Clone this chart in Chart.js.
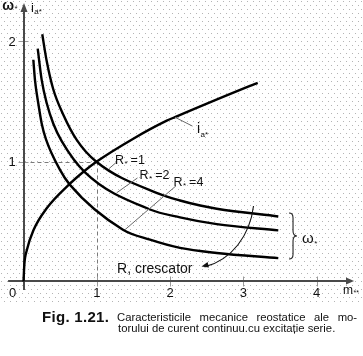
<!DOCTYPE html>
<html><head><meta charset="utf-8">
<script src="https://cdn.jsdelivr.net/npm/chart.js@4"></script>
<style>
html,body{margin:0;padding:0;background:#fff;}
#wrap{position:relative;width:363px;height:356px;overflow:hidden;}
canvas{position:absolute;left:0;top:0;}
.cap{position:absolute;font-family:"Liberation Sans",Arial,sans-serif;color:#111;white-space:nowrap;line-height:11.6px;}
</style></head><body>
<div id="wrap">
<canvas id="c" width="363" height="356"></canvas>
<div class="cap" style="left:42px;top:310.5px;font-size:15px;font-weight:bold;letter-spacing:0.3px;">Fig. 1.21.</div>
<div class="cap" style="left:117px;top:311.8px;font-size:11.3px;word-spacing:5.4px;">Caracteristicile mecanice reostatice ale mo-</div>
<div class="cap" style="left:118px;top:323.4px;font-size:11.3px;">torului de curent continuu.cu excitație serie.</div>
</div>
<script>
// tick labels
const ticksX = ['0','1','2','3','4'];
const ticksY = ['1','2'];
// armature current i_a* vs torque m*
const mIa = [0, 0.012, 0.044, 0.134, 0.317, 0.634, 0.839, 1.0, 1.498, 1.954, 2.067, 3.09, 3.195];
const iA  = [0, 0.145, 0.258, 0.425, 0.61, 0.815, 0.925, 1.0, 1.19, 1.34, 1.37, 1.63, 1.655];
// speed ω* for R* = 1
const mR1 = [0.256, 0.317, 0.407, 0.543, 0.726, 0.99, 1.862, 2.135, 2.41, 2.636, 3.476];
const wR1 = [2.06, 1.835, 1.60, 1.39, 1.18, 1.0, 0.728, 0.675, 0.633, 0.606, 0.542];
// speed ω* for R* = 2
const mR2 = [0.194, 0.248, 0.317, 0.407, 0.521, 0.839, 1.726, 2.135, 2.636, 3.476];
const wR2 = [1.94, 1.68, 1.485, 1.315, 1.17, 0.91, 0.60, 0.535, 0.478, 0.426];
// speed ω* for R* = 4
const mR4 = [0.134, 0.157, 0.202, 0.248, 0.307, 0.498, 0.634, 1.357, 1.726, 2.135, 2.636, 3.476];
const wR4 = [1.848, 1.676, 1.483, 1.317, 1.184, 0.93, 0.805, 0.432, 0.349, 0.28, 0.238, 0.195];

const pts = (xs, ys) => xs.map((x, i) => ({x, y: ys[i]}));
const FONT = '"Liberation Sans", Arial, sans-serif';

function ds(data){
  return {data, showLine:true, borderColor:'#000', borderWidth:2.4, pointRadius:0,
          cubicInterpolationMode:'monotone', fill:false, clip:false};
}

const deco = {
  id:'deco',
  beforeDraw(chart){
    const ctx = chart.ctx;
    ctx.save();
    ctx.fillStyle = '#fff';
    ctx.fillRect(0,0,chart.width,chart.height);
    ctx.fillStyle = '#b4b4b4';
    let r = 0;
    for (let y = 1; y < 302; y += 4, r++) {
      for (let x = (r % 2 ? 4 : 1); x < chart.width; x += 6) ctx.fillRect(x, y, 1, 1);
    }
    ctx.restore();
  },
  beforeDatasetsDraw(chart){
    const ctx = chart.ctx, sx = chart.scales.x, sy = chart.scales.y;
    const X = v => sx.getPixelForValue(v), Y = v => sy.getPixelForValue(v);
    ctx.save();
    // dashed guides through (1,1)
    ctx.strokeStyle = '#7a7a7a'; ctx.lineWidth = 1; ctx.setLineDash([4,3]);
    ctx.beginPath();
    ctx.moveTo(X(0), Math.round(Y(1))+0.5); ctx.lineTo(X(1), Math.round(Y(1))+0.5);
    ctx.moveTo(Math.round(X(1))+0.5, Y(1)); ctx.lineTo(Math.round(X(1))+0.5, Y(0));
    ctx.stroke();
    ctx.setLineDash([]);
    // ticks
    ctx.strokeStyle = '#9a9a9a';
    ctx.beginPath();
    for (let k = 1; k < ticksX.length; k++) {
      const x = Math.round(X(+ticksX[k]))+0.5;
      ctx.moveTo(x, Y(0)-5); ctx.lineTo(x, Y(0)+5);
    }
    ticksY.forEach(t => {
      const y = Math.round(Y(+t))+0.5;
      ctx.moveTo(X(0)-5, y); ctx.lineTo(X(0)+5, y);
    });
    ctx.stroke();
    // axes
    const ax = Math.round(X(0)), ay = Math.floor(Y(0));
    ctx.strokeStyle = '#4a4a4a'; ctx.fillStyle = '#4a4a4a'; ctx.lineWidth = 2;
    ctx.beginPath();
    ctx.moveTo(ax, Y(-0.07)); ctx.lineTo(ax, Y(2.26));
    ctx.moveTo(X(-0.21), ay); ctx.lineTo(X(4.44), ay);
    ctx.stroke();
    ctx.beginPath();
    ctx.moveTo(ax, Y(2.32)); ctx.lineTo(ax-3.5, Y(2.245)); ctx.lineTo(ax+3.5, Y(2.245)); ctx.closePath();
    ctx.fill();
    ctx.beginPath();
    ctx.moveTo(X(4.51), ay); ctx.lineTo(X(4.4), ay-3.5); ctx.lineTo(X(4.4), ay+3.5); ctx.closePath();
    ctx.fill();
    // tick labels
    ctx.fillStyle = '#111'; ctx.font = '13px ' + FONT;
    ctx.textAlign = 'center'; ctx.textBaseline = 'alphabetic';
    ticksX.forEach(t => {
      const v = +t;
      ctx.fillText(t, v === 0 ? X(-0.147) : X(v), Y(-0.129));
    });
    ctx.textBaseline = 'middle';
    ticksY.forEach(t => ctx.fillText(t, X(-0.157), Y(+t)+0.5));
    ctx.restore();
  },
  afterDatasetsDraw(chart){
    const ctx = chart.ctx, sx = chart.scales.x, sy = chart.scales.y;
    const X = v => sx.getPixelForValue(v), Y = v => sy.getPixelForValue(v);
    ctx.save();
    // leader lines
    ctx.strokeStyle = '#6a6a6a'; ctx.lineWidth = 1;
    const leaders = [
      [2.066,1.369, 2.305,1.295],
      [1.166,0.940, 1.276,0.998],
      [1.271,0.739, 1.555,0.863],
      [1.385,0.432, 2.08,0.797]
    ];
    ctx.beginPath();
    leaders.forEach(l => { ctx.moveTo(X(l[0]),Y(l[1])); ctx.lineTo(X(l[2]),Y(l[3])); });
    ctx.stroke();
    // text helpers
    ctx.fillStyle = '#111'; ctx.textAlign = 'left'; ctx.textBaseline = 'alphabetic';
    function t(s, m, v, font){ ctx.font = font + ' ' + FONT; ctx.fillText(s, X(m), Y(v)); }
    function sub(main, subs, m, v, f1, f2, dy, gap, rest, f3){
      ctx.font = f1 + ' ' + FONT; const w = ctx.measureText(main).width;
      const x0 = X(m), y0 = Y(v);
      ctx.fillText(main, x0, y0);
      ctx.font = f2 + ' ' + FONT; ctx.fillText(subs, x0 + w + 0.5, y0 + dy);
      const w2 = ctx.measureText(subs).width;
      if (rest) { ctx.font = (f3||f1) + ' ' + FONT; ctx.fillText(rest, x0 + w + 0.5 + w2 + gap, y0); }
    }
    // R labels
    sub('R', '*', 1.248, 0.983, '12.5px', '8px', 2, 3, '=1');
    sub('R', '*', 1.583, 0.858, '12.5px', '8px', 2, 3, '=2');
    sub('R', '*', 2.046, 0.796, '12.5px', '8px', 2, 3, '=4');
    // i_a* label
    sub('i', 'a*', 2.367, 1.2375, '14px', '8px', 3.5);
    // R increasing
    t('R, crescator', 1.276, 0.071, '14px');
    // ω* brace label
    sub('ω', '*', 3.799, 0.317, '15px', '8px', 2.5);
    // axis titles
    sub('ω', '*', -0.29, 2.262, 'bold 14px', '8px', 1);
    sub('i', 'a*', 0.102, 2.25, '13px', '8px', 2);
    sub('m', '**', 4.359, -0.1, '12px', '7px', 1.5);
    // brace
    ctx.strokeStyle = '#222'; ctx.lineWidth = 1.1;
    ctx.beginPath();
    ctx.moveTo(X(3.622), Y(0.571));
    ctx.quadraticCurveTo(X(3.677), Y(0.571), X(3.677), Y(0.53));
    ctx.lineTo(X(3.677), Y(0.42));
    ctx.quadraticCurveTo(X(3.677), Y(0.379), X(3.731), Y(0.379));
    ctx.quadraticCurveTo(X(3.677), Y(0.379), X(3.677), Y(0.338));
    ctx.lineTo(X(3.677), Y(0.228));
    ctx.quadraticCurveTo(X(3.677), Y(0.1875), X(3.622), Y(0.1875));
    ctx.stroke();
    // R increasing arrow
    ctx.strokeStyle = '#111'; ctx.lineWidth = 1.1;
    ctx.beginPath();
    ctx.moveTo(X(3.138), Y(0.629));
    ctx.bezierCurveTo(X(3.09), Y(0.3875), X(2.844), Y(0.179), X(2.47), Y(0.122));
    ctx.stroke();
    const tx = X(2.428), ty = Y(0.125);
    const dx = -0.97, dy = 0.243, L = 7, H = 2.8;
    ctx.fillStyle = '#111';
    ctx.beginPath();
    ctx.moveTo(tx, ty);
    ctx.lineTo(tx - dx*L - dy*H, ty - dy*L + dx*H);
    ctx.lineTo(tx - dx*L + dy*H, ty - dy*L - dx*H);
    ctx.closePath(); ctx.fill();
    ctx.restore();
  }
};

new Chart(document.getElementById('c'), {
  type:'scatter',
  data:{ datasets:[ ds(pts(mIa,iA)), ds(pts(mR1,wR1)), ds(pts(mR2,wR2)), ds(pts(mR4,wR4)) ] },
  options:{
    responsive:false, animation:false, events:[],
    layout:{ padding:{ left:23.5, right:9.65, top:5.5, bottom:74.5 } },
    plugins:{ legend:{display:false}, tooltip:{enabled:false} },
    scales:{
      x:{ type:'linear', min:0, max:4.5, display:false },
      y:{ type:'linear', min:0, max:2.3, display:false }
    }
  },
  plugins:[deco]
});
</script>
</body></html>
